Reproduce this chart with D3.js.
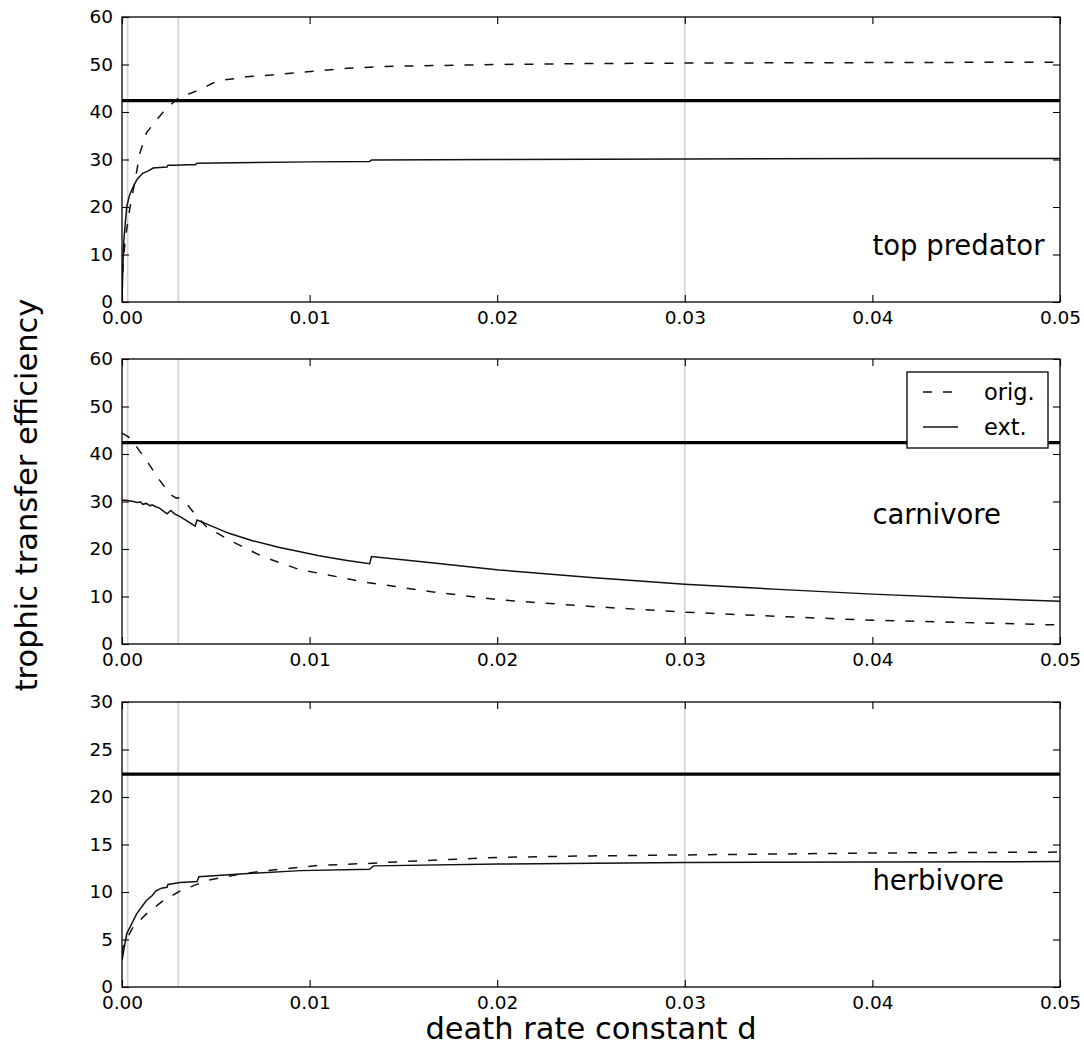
<!DOCTYPE html>
<html>
<meta charset="utf-8">
<head>
  <script src="https://d3js.org/d3.v7.min.js"></script>
  <style>
    body { margin: 0; background: #fff; }
    text { font-family: "DejaVu Sans", sans-serif; fill: #000; }
    .tick text { font-size: 18.5px; }
    .tick line { stroke: #000; stroke-width: 1.1px; }
    .frame { fill: none; stroke: #000; stroke-width: 1.3px; }
    .guide { stroke: #d4d4d4; stroke-width: 1.6px; }
    .ref { stroke: #000; stroke-width: 3.3px; }
    .curve { fill: none; stroke: #111; stroke-width: 1.5px; }
    .dash { stroke-dasharray: 9,11; }
  </style>
</head>
<body>
<div id="chart"></div>

<script type="text/javascript">
"use strict"

// x ticks and guide lines
var xTicks = [0, 0.01, 0.02, 0.03, 0.04, 0.05];
var guideX = [0.0003, 0.003, 0.03];

// top predator
var topOrigX = [0, 0.00007, 0.0002, 0.00043, 0.0007, 0.00096, 0.0013, 0.00184, 0.0022, 0.0027, 0.0031, 0.0037, 0.0043, 0.0048, 0.0052, 0.006, 0.0066, 0.008, 0.0105, 0.012, 0.014, 0.017, 0.02, 0.025, 0.03, 0.04, 0.05];
var topOrig  = [2, 8.8, 14, 20, 25.7, 31.4, 35.6, 38.3, 40, 41.9, 43.2, 44, 45, 46, 46.7, 47, 47.4, 47.8, 48.7, 49.2, 49.6, 49.8, 50, 50.2, 50.3, 50.4, 50.5];
var topExtX  = [0, 0.00005, 0.0001, 0.00025, 0.0004, 0.00059, 0.0008, 0.0011, 0.0014, 0.00166, 0.002, 0.0024, 0.00245, 0.0028, 0.0035, 0.0039, 0.004, 0.006, 0.01, 0.0132, 0.0133, 0.02, 0.03, 0.04, 0.05];
var topExt   = [0, 8, 13, 20, 22.5, 24.2, 25.8, 27.1, 27.6, 28.2, 28.3, 28.4, 28.8, 28.8, 28.9, 28.9, 29.2, 29.3, 29.5, 29.6, 29.9, 30, 30.1, 30.2, 30.2];

// carnivore
var carnOrigX = [0, 0.00034, 0.00078, 0.0013, 0.002, 0.0026, 0.0029, 0.003, 0.0031, 0.0034, 0.004, 0.0045, 0.0057, 0.0075, 0.0095, 0.0105, 0.013, 0.0165, 0.0201, 0.025, 0.03, 0.035, 0.04, 0.045, 0.05];
var carnOrig  = [44.4, 43.6, 41.5, 38.7, 34.5, 31.4, 30.7, 30.8, 30.5, 29.7, 26.8, 24.7, 21.9, 18.4, 15.6, 14.9, 13, 11, 9.3, 7.9, 6.7, 5.8, 5, 4.5, 4];
var carnExtX  = [0, 0.0003, 0.0006, 0.0008, 0.001, 0.0011, 0.0013, 0.0015, 0.0016, 0.0018, 0.002, 0.0024, 0.0026, 0.0028, 0.0031, 0.0035, 0.0039, 0.004, 0.0045, 0.0057, 0.007, 0.0084, 0.0095, 0.0105, 0.012, 0.0132, 0.0133, 0.0165, 0.0201, 0.025, 0.03, 0.035, 0.04, 0.045, 0.05];
var carnExt   = [30.3, 30.2, 30, 29.8, 29.9, 29.4, 29.6, 29.1, 29.3, 28.9, 28.6, 27.4, 28.1, 27.4, 26.8, 25.8, 24.8, 26.1, 25.3, 23.3, 21.7, 20.3, 19.4, 18.6, 17.6, 16.9, 18.4, 17.1, 15.6, 14, 12.6, 11.5, 10.5, 9.7, 9];

// herbivore
var herbOrigX = [0, 0.00005, 0.00015, 0.00059, 0.0013, 0.0022, 0.0031, 0.0045, 0.0063, 0.0077, 0.0095, 0.0105, 0.013, 0.016, 0.0201, 0.025, 0.03, 0.04, 0.05];
var herbOrig  = [3.5, 4.2, 4.7, 6.3, 7.7, 9.1, 10.1, 11.2, 11.9, 12.25, 12.6, 12.8, 13, 13.3, 13.65, 13.8, 13.9, 14.1, 14.2];
var herbExtX  = [0, 0.00025, 0.00078, 0.0013, 0.0016, 0.0018, 0.0021, 0.0024, 0.00245, 0.0031, 0.004, 0.0041, 0.0063, 0.0095, 0.0132, 0.0134, 0.0201, 0.03, 0.04, 0.05];
var herbExt   = [2.8, 5.6, 7.7, 9.1, 9.6, 10.1, 10.4, 10.5, 10.8, 11, 11.1, 11.6, 11.9, 12.25, 12.4, 12.75, 12.95, 13.1, 13.15, 13.2];

var panelNames = ["top predator", "carnivore", "herbivore"];
var yMax = [60, 60, 30];
var yStep = [10, 10, 5];
var refLevel = [42.4, 42.4, 22.4];
var labelPos = [0.165, 0.42, 0.34];

var panels = [
  { orig: [topOrigX, topOrig], ext: [topExtX, topExt] },
  { orig: [carnOrigX, carnOrig], ext: [carnExtX, carnExt] },
  { orig: [herbOrigX, herbOrig], ext: [herbExtX, herbExt] }
];

var width = 1084, height = 1045;
var left = 122, right = 1060, ph = 285;
var tops = [17, 359, 702];

var svg = d3.select("#chart").append("svg")
    .attr("width", width)
    .attr("height", height);

var x = d3.scaleLinear().domain([0, 0.05]).range([0, right - left]);
var pw = right - left;

svg.append("defs").append("clipPath").attr("id", "clip")
  .append("rect").attr("width", pw).attr("height", ph);

panels.forEach(function(p, i) {
  var y = d3.scaleLinear().domain([0, yMax[i]]).range([ph, 0]);
  var yTicks = d3.range(0, yMax[i] + 0.001, yStep[i]);
  var g = svg.append("g").attr("transform", "translate(" + left + "," + tops[i] + ")");
  var plot = g.append("g").attr("clip-path", "url(#clip)");

  plot.selectAll(".guide").data(guideX).enter().append("line")
      .attr("class", "guide")
      .attr("x1", function(d) { return x(d); })
      .attr("x2", function(d) { return x(d); })
      .attr("y1", 0).attr("y2", ph);

  plot.append("line").attr("class", "ref")
      .attr("x1", 0).attr("x2", pw)
      .attr("y1", y(refLevel[i])).attr("y2", y(refLevel[i]));

  var line = d3.line()
      .x(function(d) { return x(d[0]); })
      .y(function(d) { return y(d[1]); });

  plot.append("path").attr("class", "curve dash")
      .attr("d", line(d3.zip(p.orig[0], p.orig[1])));
  plot.append("path").attr("class", "curve")
      .attr("d", line(d3.zip(p.ext[0], p.ext[1])));

  // axes, ticks pointing inward
  g.append("g").attr("transform", "translate(0," + ph + ")")
      .call(d3.axisBottom(x).tickValues(xTicks).tickFormat(d3.format(".2f")).tickSize(-7).tickPadding(9));
  g.append("g")
      .call(d3.axisTop(x).tickValues(xTicks).tickFormat("").tickSize(-7));
  g.append("g")
      .call(d3.axisLeft(y).tickValues(yTicks).tickFormat(d3.format("d")).tickSize(-7).tickPadding(9));
  g.append("g").attr("transform", "translate(" + pw + ",0)")
      .call(d3.axisRight(y).tickValues(yTicks).tickFormat("").tickSize(-7));
  g.selectAll(".domain").remove();
  g.selectAll(".tick text").attr("font-family", null).attr("font-size", null);

  g.append("rect").attr("class", "frame").attr("width", pw).attr("height", ph);

  g.append("text")
      .attr("x", pw * 0.8)
      .attr("y", ph * (1 - labelPos[i]))
      .style("font-size", "27.5px")
      .text(panelNames[i]);

  if (i === 1) {
    var lg = g.append("g").attr("transform", "translate(" + (907 - left) + "," + (372 - tops[1]) + ")");
    lg.append("rect").attr("width", 141).attr("height", 76)
        .attr("fill", "#fff").attr("stroke", "#000").attr("stroke-width", 1.3);
    var items = [["orig.", true, 20], ["ext.", false, 55]];
    items.forEach(function(it) {
      lg.append("line").attr("class", "curve" + (it[1] ? " dash" : ""))
          .attr("x1", 16).attr("x2", 51).attr("y1", it[2]).attr("y2", it[2]);
      lg.append("text").attr("x", 77).attr("y", it[2]).attr("dy", "0.36em")
          .style("font-size", "22.5px").text(it[0]);
    });
  }
});

svg.append("text")
    .attr("transform", "translate(37,495) rotate(-90)")
    .attr("text-anchor", "middle")
    .style("font-size", "30.5px")
    .text("trophic transfer efficiency");

svg.append("text")
    .attr("x", (left + right) / 2)
    .attr("y", 1039)
    .attr("text-anchor", "middle")
    .style("font-size", "30.5px")
    .text("death rate constant d");
</script>
</body>
</html>
